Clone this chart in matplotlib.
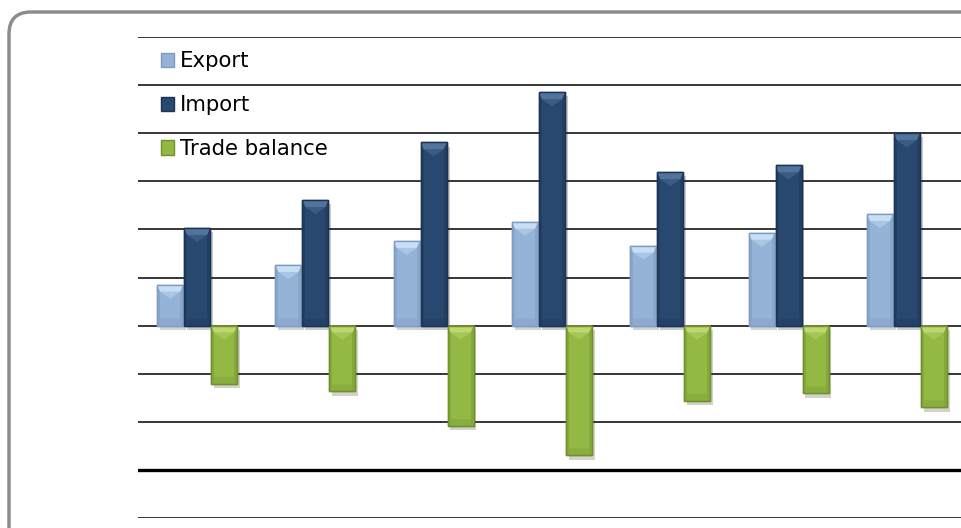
import numpy as np
import matplotlib
matplotlib.use("Agg")
import matplotlib.pyplot as plt
import matplotlib.patches as mpatches
import matplotlib.patheffects as pe
from matplotlib.transforms import IdentityTransform

# values (million, one gridline = 2000)
years   = ["2005", "2006", "2007", "2008", "2009", "2010", "2011"]
export  = [1700, 2520, 3520, 4320, 3320, 3860, 4640]
imports = [4060, 5220, 7620, 9700, 6380, 6660, 8000]
balance = [-2440, -2740, -4180, -5400, -3140, -2820, -3400]
labels  = ["Export", "Import", "Trade balance"]

COLORS = ["#95b3d7", "#294870", "#93b944"]
EDGES  = ["#7f9cc0", "#1c3452", "#70902c"]
LIGHT  = ["#c8def6", "#52739c", "#bcd86e"]
DARK   = ["#89a7cc", "#233f62", "#85a83c"]
STEP   = 2000

fig = plt.figure(figsize=(9.62, 5.28), dpi=100)
ax = fig.add_axes([138 / 962, 10 / 528, 828 / 962, 481 / 528])
ax.set_xlim(-0.5, len(years) - 0.5)
ax.set_ylim(-4 * STEP, 6 * STEP)

x = np.arange(len(years))
w = 0.22
shadow = [pe.SimplePatchShadow(offset=(2, -3), alpha=0.22), pe.Normal()]

# pixel sizes in data units, for the bevel
px_x = len(years) / 828
px_y = 10 * STEP / 481


def bevel(xc, val, i):
    x0, x1 = xc - w / 2, xc + w / 2
    top, bot = max(val, 0), min(val, 0)
    s, d = 3 * px_x, 7 * px_y
    ax.add_patch(mpatches.Rectangle((x0, bot), s, top - bot, color=DARK[i], lw=0, zorder=4))
    ax.add_patch(mpatches.Rectangle((x1 - s, bot), s, top - bot, color=DARK[i], lw=0, zorder=4))
    ax.add_patch(mpatches.Polygon([(x0, top), (x1, top), (x1 - s, top - d), (x0 + s, top - d)],
                                  closed=True, color=LIGHT[i], lw=0, zorder=4))
    ax.add_patch(mpatches.Polygon([(x0 + s, top - d), (x1 - s, top - d), (xc, top - 2 * d)],
                                  closed=True, color=LIGHT[i], alpha=0.45, lw=0, zorder=4))
    ax.add_patch(mpatches.Polygon([(x0, bot), (x1, bot), (x1 - s, bot + d), (x0 + s, bot + d)],
                                  closed=True, color=DARK[i], alpha=0.7, lw=0, zorder=4))
    ax.add_patch(mpatches.Rectangle((x0, bot), w, top - bot, facecolor="none",
                                    edgecolor=EDGES[i], lw=1.0, zorder=5))


for i, (vals, off) in enumerate(zip([export, imports, balance], [-0.228, 0.0, 0.228])):
    bars = ax.bar(x + off, vals, width=w, color=COLORS[i], edgecolor=EDGES[i],
                  linewidth=1.0, label=labels[i], zorder=3)
    for b in bars:
        b.set_path_effects(shadow)
    for xc, v in zip(x + off, vals):
        bevel(xc, v, i)

for k in range(-4, 7):
    lw = 2.4 if k == -3 else 1.1
    ax.axhline(k * STEP, color="black", lw=lw, zorder=1)

for s in ax.spines.values():
    s.set_visible(False)
ax.set_xticks([])
ax.set_yticks([])
ax.patch.set_alpha(0)

handles = [mpatches.Patch(facecolor=COLORS[i], edgecolor=EDGES[i], label=labels[i])
           for i in range(3)]
ax.legend(handles=handles, loc="upper left", bbox_to_anchor=(0.017, 0.988),
          frameon=False, prop={"family": "DejaVu Sans", "size": 15.3},
          handlelength=0.65, handleheight=0.65, handletextpad=0.25,
          labelspacing=1.12, borderaxespad=0)

# rounded frame round the chart
frame = mpatches.FancyBboxPatch((9, -40), 1000, 556, transform=IdentityTransform(),
                                boxstyle="round,pad=0,rounding_size=22",
                                facecolor="none", edgecolor="#8c8c8c", lw=2.5)
fig.patches.append(frame)

fig.savefig("out.png", dpi=100)
